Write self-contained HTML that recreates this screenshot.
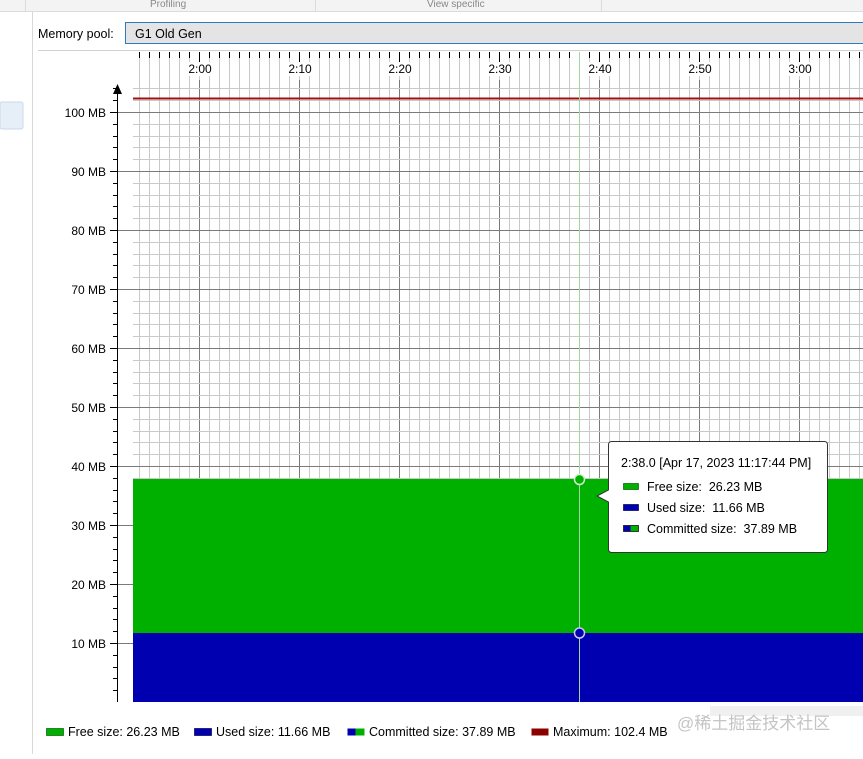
<!DOCTYPE html>
<html><head><meta charset="utf-8"><style>
body{margin:0;width:863px;height:754px;overflow:hidden;background:#fff;font-family:"Liberation Sans","Noto Sans CJK SC",sans-serif;}
</style></head><body>
<svg width="863" height="754" xmlns="http://www.w3.org/2000/svg" font-family="Liberation Sans, Noto Sans CJK SC, sans-serif">
<rect x="0" y="0" width="863" height="11" fill="#f3f3f3"/>
<line x1="0" y1="11.5" x2="863" y2="11.5" stroke="#dcdcdc"/>
<line x1="25.5" y1="0" x2="25.5" y2="11" stroke="#dcdcdc"/>
<line x1="315.5" y1="0" x2="315.5" y2="11" stroke="#dcdcdc"/>
<line x1="601.5" y1="0" x2="601.5" y2="11" stroke="#dcdcdc"/>
<text x="150" y="7" font-size="10" fill="#888">Profiling</text>
<text x="427" y="7" font-size="10" fill="#888">View specific</text>
<rect x="0" y="12" width="32" height="742" fill="#fff"/>
<line x1="32.5" y1="12" x2="32.5" y2="754" stroke="#d8d8d8"/>
<rect x="0" y="102" width="23" height="27" rx="2" fill="#e6eef7" stroke="#c8d8ea"/>
<text x="38" y="38" font-size="12.5" fill="#000">Memory pool:</text>
<rect x="125.5" y="22.5" width="740" height="21" fill="#e4e4e4" stroke="#2f7bc0"/>
<text x="135" y="38" font-size="12.5" fill="#000">G1 Old Gen</text>
<line x1="38" y1="50.5" x2="863" y2="50.5" stroke="#d0d0d0"/>
<g id="grid"></g>
<rect x="133" y="479" width="730" height="154" fill="#00b000"/>
<rect x="133" y="633" width="730" height="69" fill="#0000b0"/>
<line x1="133" y1="98.5" x2="863" y2="98.5" stroke="#a01010" stroke-width="2"/>
<line x1="117.5" y1="90" x2="117.5" y2="702" stroke="#000"/>
<polygon points="117.5,84 113,94 122,94" fill="#000"/>
<g font-size="12" fill="#000" text-anchor="end">
<text x="106" y="117">100 MB</text><text x="106" y="176">90 MB</text><text x="106" y="235">80 MB</text><text x="106" y="294">70 MB</text><text x="106" y="353">60 MB</text><text x="106" y="412">50 MB</text><text x="106" y="471">40 MB</text><text x="106" y="530">30 MB</text><text x="106" y="589">20 MB</text><text x="106" y="648">10 MB</text>
</g>
<g font-size="12" fill="#000" text-anchor="middle">
<rect x="187" y="62" width="26" height="14" fill="#fff"/><text x="200" y="73">2:00</text>
<rect x="287" y="62" width="26" height="14" fill="#fff"/><text x="300" y="73">2:10</text>
<rect x="387" y="62" width="26" height="14" fill="#fff"/><text x="400" y="73">2:20</text>
<rect x="487" y="62" width="26" height="14" fill="#fff"/><text x="500" y="73">2:30</text>
<rect x="587" y="62" width="26" height="14" fill="#fff"/><text x="600" y="73">2:40</text>
<rect x="687" y="62" width="26" height="14" fill="#fff"/><text x="700" y="73">2:50</text>
<rect x="787" y="62" width="26" height="14" fill="#fff"/><text x="800" y="73">3:00</text>
</g>
<line x1="579.5" y1="52" x2="579.5" y2="702" stroke="#9fd89f"/>
<circle cx="579.5" cy="479.5" r="5" fill="#00b000" stroke="#d0f0d0" stroke-width="1.5"/>
<circle cx="579.5" cy="633" r="5" fill="#0000b0" stroke="#c8c8f0" stroke-width="1.5"/>
<path d="M611.5 441.5 H824.5 a3 3 0 0 1 3 3 V549.5 a3 3 0 0 1 -3 3 H611.5 a3 3 0 0 1 -3 -3 V502 L597 496 L608.5 490 V444.5 a3 3 0 0 1 3 -3 Z" fill="#fff" stroke="#333"/>
<g font-size="12.5" fill="#000">
<text x="621" y="467">2:38.0 [Apr 17, 2023 11:17:44 PM]</text>
<rect x="623.5" y="483.5" width="15" height="6" fill="#00b000" stroke="#0a5a0a" stroke-width="0.7"/>
<text x="647" y="491">Free size:&#160; 26.23 MB</text>
<rect x="623.5" y="504.5" width="15" height="6" fill="#0000b0" stroke="#000050" stroke-width="0.7"/>
<text x="647" y="512">Used size:&#160; 11.66 MB</text>
<rect x="623.5" y="525.5" width="7" height="6" fill="#0000b0"/><rect x="630.5" y="525.5" width="8" height="6" fill="#00b000"/>
<rect x="623.5" y="525.5" width="15" height="6" fill="none" stroke="#000" stroke-width="0.7"/>
<text x="647" y="533">Committed size:&#160; 37.89 MB</text>
</g>
<g font-size="12.5" fill="#000">
<rect x="46.5" y="728.5" width="17" height="7" fill="#00b000" stroke="#0a5a0a" stroke-width="0.7"/><text x="68" y="736">Free size: 26.23 MB</text>
<rect x="194.5" y="728.5" width="17" height="7" fill="#0000b0" stroke="#000050" stroke-width="0.7"/><text x="216" y="736">Used size: 11.66 MB</text>
<rect x="347.5" y="728.5" width="8" height="7" fill="#0000b0"/><rect x="355.5" y="728.5" width="9" height="7" fill="#00b000"/><text x="369" y="736">Committed size: 37.89 MB</text>
<rect x="531.5" y="728.5" width="17" height="7" fill="#8b0000"/><text x="553" y="736">Maximum: 102.4 MB</text>
</g>
<rect x="710" y="706" width="153" height="10" fill="#f0f0f0"/>
<text x="677" y="729" font-size="17" fill="#c4c4c4">@稀土掘金技术社区</text>
</svg>
<script>
(function(){
var ns="http://www.w3.org/2000/svg",g=document.getElementById("grid");
function L(x1,y1,x2,y2,c){var l=document.createElementNS(ns,"line");l.setAttribute("x1",x1);l.setAttribute("y1",y1);l.setAttribute("x2",x2);l.setAttribute("y2",y2);l.setAttribute("stroke",c);g.appendChild(l);}
for(var x=140;x<863;x+=10){var maj=(x%100==0);var xx=x-0.5;
 L(xx,58,xx,702,"#c9c9c9");
 if(maj){L(xx,80,xx,702,"#7a7a7a");L(xx,52,xx,62,"#000");}
 else L(xx,52,xx,58,"#000");}
for(var i=1;i<=52;i++){var y=Math.round(702-i*5.9*2)+0.5;var maj=(i%5==0);
 if(maj){L(110,y,863,y,"#7a7a7a");L(110,y,118,y,"#000");}
 else{L(133,y,863,y,"#c9c9c9");L(113,y,118,y,"#000");}}
})();
</script>
</body></html>
